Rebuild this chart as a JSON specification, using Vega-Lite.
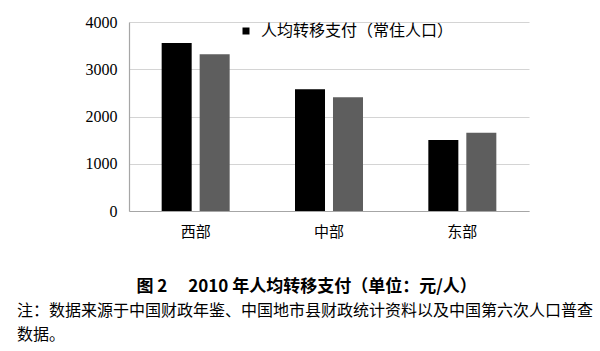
{
  "$schema": "https://vega.github.io/schema/vega-lite/v6.json",
  "width": 400,
  "height": 189,
  "autosize": {"type": "none"},
  "padding": {"left": 129, "top": 22, "right": 71, "bottom": 140},
  "background": "white",
  "config": {"view": {"stroke": null}, "font": "Noto Sans CJK SC"},
  "title": {
    "text": ["注：数据来源于中国财政年鉴、中国地市县财政统计资料以及中国第六次人口普查", "数据。"],
    "orient": "bottom",
    "anchor": "start",
    "frame": "group",
    "dx": -112,
    "offset": 9,
    "fontSize": 16,
    "fontWeight": "normal",
    "lineHeight": 24,
    "font": "Noto Sans CJK SC",
    "color": "black"
  },
  "data": {
    "values": [
      {"region": "西部", "series": "人均转移支付（常住人口）", "value": 3556},
      {"region": "西部", "series": "人均转移支付（户籍人口）", "value": 3316},
      {"region": "中部", "series": "人均转移支付（常住人口）", "value": 2575},
      {"region": "中部", "series": "人均转移支付（户籍人口）", "value": 2406},
      {"region": "东部", "series": "人均转移支付（常住人口）", "value": 1503},
      {"region": "东部", "series": "人均转移支付（户籍人口）", "value": 1657}
    ]
  },
  "mark": {"type": "bar"},
  "encoding": {
    "x": {
      "field": "region",
      "type": "nominal",
      "sort": ["西部", "中部", "东部"],
      "scale": {"paddingInner": 0.49, "paddingOuter": 0.245},
      "axis": {
        "title": "图 2\u3000 2010 年人均转移支付（单位：元/人）",
        "titleFont": "Noto Sans CJK SC",
        "titleFontSize": 17,
        "titleFontWeight": "bold",
        "titleColor": "black",
        "titleAlign": "left",
        "titleAnchor": "start",
        "titleX": 7,
        "titleY": 75,
        "titleBaseline": "middle",
        "labelAngle": 0,
        "labelFont": "Noto Sans CJK SC",
        "labelFontSize": 15,
        "labelColor": "black",
        "labelPadding": 13,
        "ticks": false,
        "domainColor": "#a6a6a6",
        "domainWidth": 1.2
      }
    },
    "xOffset": {
      "field": "series",
      "sort": ["人均转移支付（常住人口）", "人均转移支付（户籍人口）"],
      "scale": {"paddingInner": 0.21, "paddingOuter": 0}
    },
    "y": {
      "field": "value",
      "type": "quantitative",
      "scale": {"domain": [0, 4000]},
      "axis": {
        "title": null,
        "values": [0, 1000, 2000, 3000, 4000],
        "format": "d",
        "labelFont": "Liberation Serif",
        "labelFontSize": 16,
        "labelColor": "black",
        "labelPadding": 12,
        "ticks": false,
        "domainColor": "#a6a6a6",
        "domainWidth": 1.2,
        "gridColor": "#d4d4d4",
        "gridWidth": 1.2
      }
    },
    "color": {
      "field": "series",
      "type": "nominal",
      "scale": {
        "domain": ["人均转移支付（常住人口）", "人均转移支付（户籍人口）"],
        "range": ["#000000", "#5e5e5e"]
      },
      "legend": {
        "title": null,
        "values": ["人均转移支付（常住人口）"],
        "orient": "none",
        "legendX": 109,
        "legendY": 1,
        "symbolType": "square",
        "symbolSize": 49,
        "symbolStrokeWidth": 0,
        "labelFont": "Noto Sans CJK SC",
        "labelFontSize": 16,
        "labelColor": "black",
        "labelLimit": 400,
        "labelOffset": 7
      }
    }
  }
}
